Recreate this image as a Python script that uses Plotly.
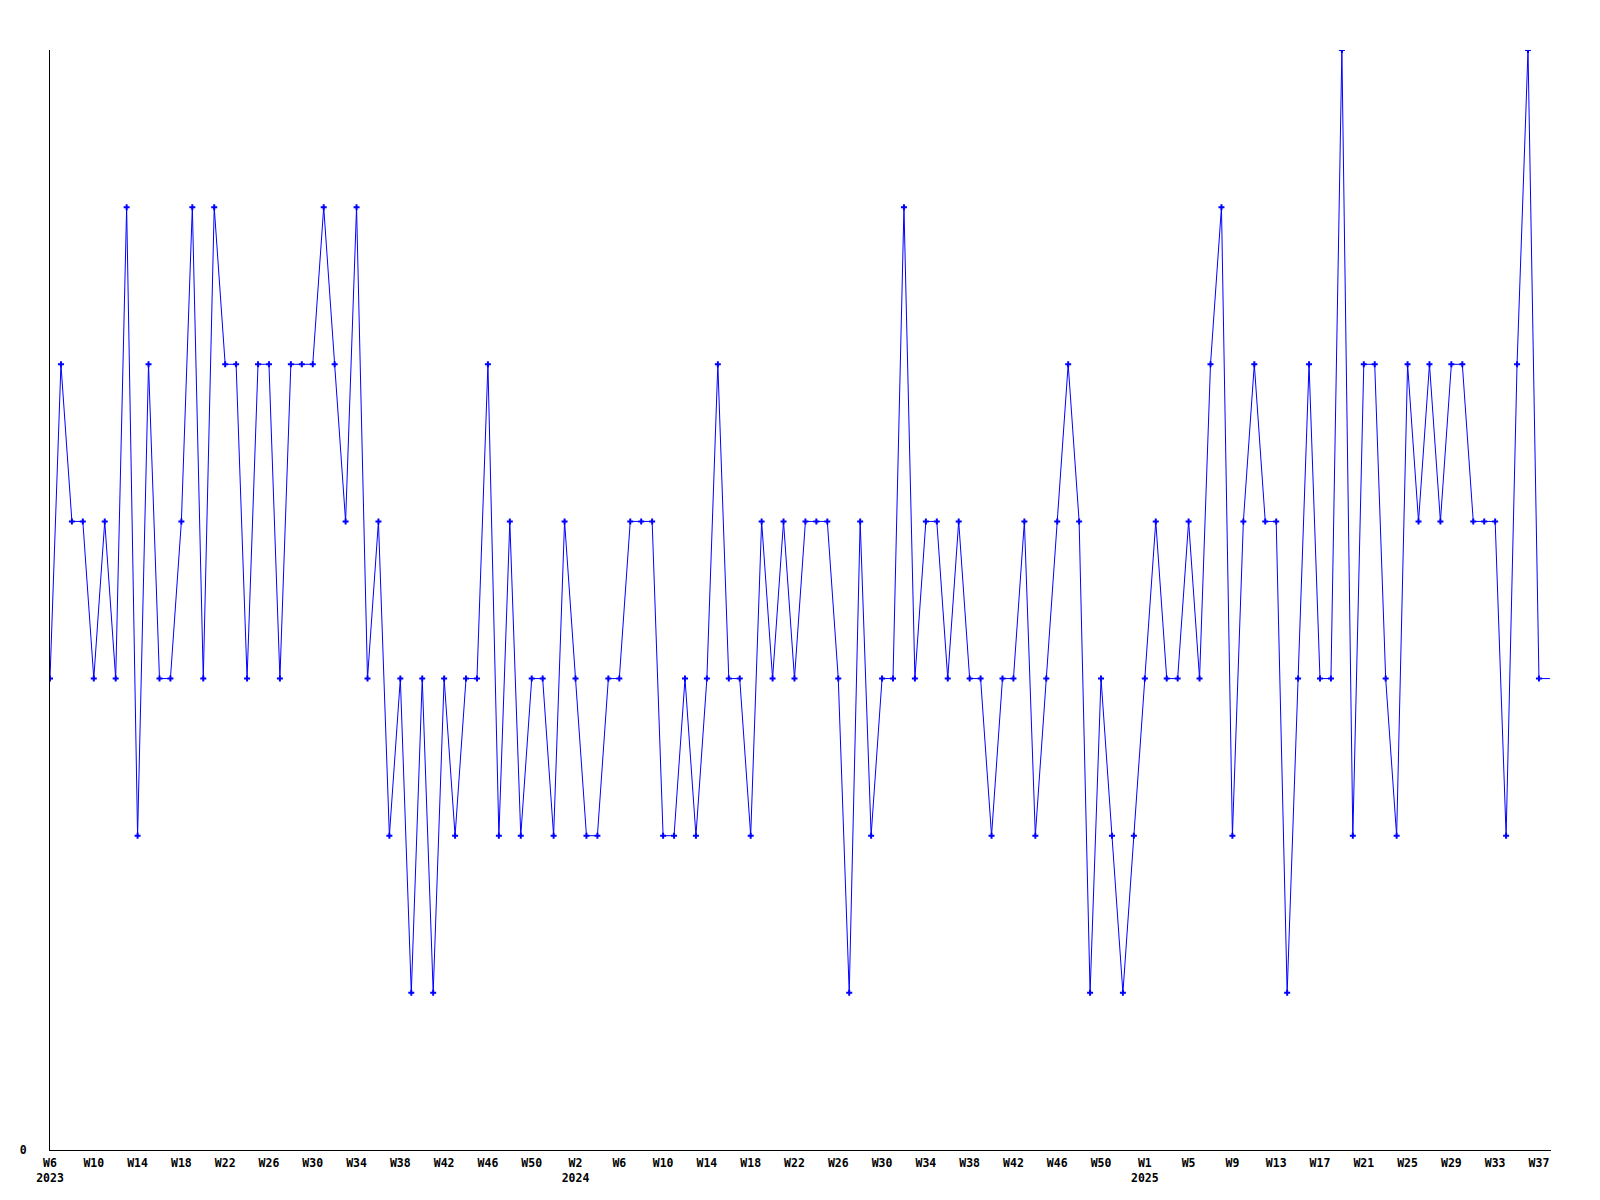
import plotly.graph_objects as go

# ---- data ----
start_year = 2023
start_week = 6
weeks_per_year = {2023: 52, 2024: 53, 2025: 52}

values = [
    3, 5, 4, 4, 3, 4, 3, 6, 2, 5,
    3, 3, 4, 6, 3, 6, 5, 5, 3, 5,
    5, 3, 5, 5, 5, 6, 5, 4, 6, 3,
    4, 2, 3, 1, 3, 1, 3, 2, 3, 3,
    5, 2, 4, 2, 3, 3, 2, 4, 3, 2,
    2, 3, 3, 4, 4, 4, 2, 2, 3, 2,
    3, 5, 3, 3, 2, 4, 3, 4, 3, 4,
    4, 4, 3, 1, 4, 2, 3, 3, 6, 3,
    4, 4, 3, 4, 3, 3, 2, 3, 3, 4,
    2, 3, 4, 5, 4, 1, 3, 2, 1, 2,
    3, 4, 3, 3, 4, 3, 5, 6, 2, 4,
    5, 4, 4, 1, 3, 5, 3, 3, 7, 2,
    5, 5, 3, 2, 5, 4, 5, 4, 5, 5,
    4, 4, 4, 2, 5, 7, 3,
]
current_value = 3  # running (incomplete) week, drawn without marker

# ---- week labels ----
week_labels = []
week_years = []
y, w = start_year, start_week
for _ in range(len(values) + 1):
    week_labels.append(f"W{w}")
    week_years.append(y)
    w += 1
    if w > weeks_per_year[y]:
        w = 1
        y += 1

all_values = values + [current_value]
xs = list(range(len(all_values)))

tickvals = list(range(0, len(values), 4))
ticktext = []
seen_years = set()
for t in tickvals:
    yr = week_years[t]
    if yr not in seen_years:
        seen_years.add(yr)
        ticktext.append(f"{week_labels[t]}<br>{yr}")
    else:
        ticktext.append(week_labels[t])

font = dict(family="DejaVu Sans Mono", size=11.5, color="black", weight="bold")

fig = go.Figure()
fig.add_trace(go.Scatter(
    x=xs, y=all_values, mode="lines",
    line=dict(color="#0000ff", width=1),
    hoverinfo="skip", showlegend=False,
))
fig.add_trace(go.Scatter(
    x=xs[:len(values)], y=values, mode="markers",
    marker=dict(symbol="cross", size=5, color="#0000ff", line=dict(width=0)),
    showlegend=False,
))

fig.update_layout(
    width=1584, height=1184,
    margin=dict(l=42, r=41, t=42, b=42),
    paper_bgcolor="white", plot_bgcolor="white",
    font=font,
)
fig.update_xaxes(
    range=[0, len(values) + 0.1],
    tickvals=tickvals, ticktext=ticktext,
    showgrid=False, zeroline=False, automargin=False,
    showline=True, linecolor="black", linewidth=1,
    ticks="", ticklabelstandoff=2, tickfont=font,
)
fig.update_yaxes(
    range=[0, 7],
    tickvals=[0], ticktext=["0"],
    showgrid=False, zeroline=False, automargin=False,
    showline=True, linecolor="black", linewidth=1,
    ticks="", ticklabelstandoff=20, tickfont=font,
)

fig.write_html("out.html")
